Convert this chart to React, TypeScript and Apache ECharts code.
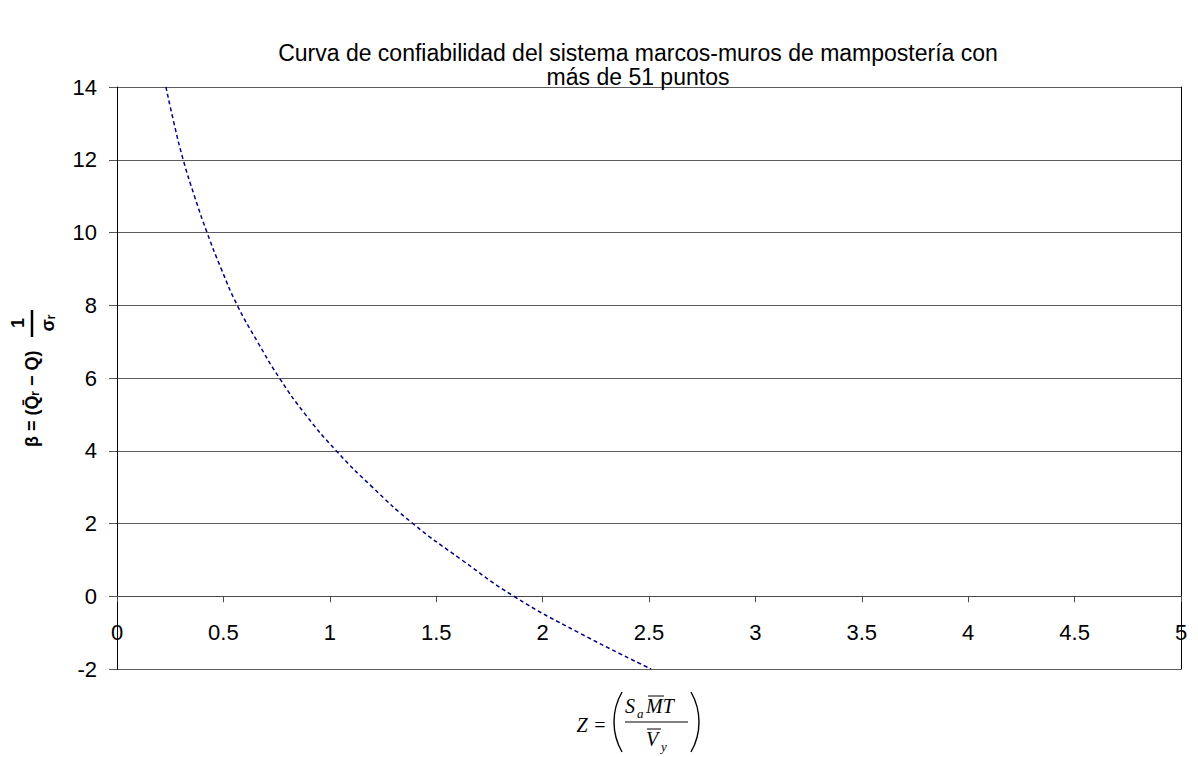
import React, { useEffect, useRef } from "react";
import * as echarts from "echarts";

// Reliability curve
const zValues = [0.23, 0.268, 0.311, 0.364, 0.423, 0.49, 0.565, 0.66, 0.763, 0.885, 1.03, 1.2, 1.39, 1.62, 1.865, 2.17, 2.51];
const betaValues = [14, 13, 12, 11, 10, 9, 8, 7, 6, 5, 4, 3, 2, 1, 0, -1, -2];

const titleLines = [
  "Curva de confiabilidad del sistema marcos-muros de mampostería con",
  "más de 51 puntos",
];

const X_MIN = 0;
const X_MAX = 5;
const X_STEP = 0.5;
const Y_MIN = -2;
const Y_MAX = 14;
const Y_STEP = 2;

const GRID_TOP = 87;
const GRID_BOTTOM = 88;
const CHART_H = 757;

const SANS = '"Liberation Sans", Arial, sans-serif';
const SERIF = '"Liberation Serif", "Times New Roman", serif';

export default function App() {
  const ref = useRef<HTMLDivElement>(null);

  useEffect(() => {
    if (!ref.current) return;
    const chart = echarts.init(ref.current, undefined, { renderer: "svg" });

    const data = zValues.map((z, i) => [z, betaValues[i]]);

    // place the x axis (line, ticks, labels) on the beta = 0 line
    const plotH = CHART_H - GRID_TOP - GRID_BOTTOM;
    const zeroOffset = -((0 - Y_MIN) / (Y_MAX - Y_MIN)) * plotH;

    const serifItalic = (size: number) => `italic ${size}px ${SERIF}`;

    const option: any = {
      animation: false,
      backgroundColor: "#ffffff",
      title: {
        text: titleLines.join("\n"),
        left: 633,
        top: 36,
        textAlign: "center",
        textStyle: {
          fontFamily: SANS,
          fontSize: 23,
          fontWeight: "normal",
          color: "#000",
          lineHeight: 24,
        },
      },
      grid: { left: 117, right: 17, top: GRID_TOP, bottom: GRID_BOTTOM, containLabel: false },
      xAxis: {
        type: "value",
        min: X_MIN,
        max: X_MAX,
        interval: X_STEP,
        position: "bottom",
        offset: zeroOffset,
        axisLine: { show: true, onZero: false, lineStyle: { color: "#4a4a4a", width: 1 } },
        axisTick: { show: true, length: 6, lineStyle: { color: "#4a4a4a" } },
        axisLabel: {
          show: true,
          margin: 25,
          fontFamily: SANS,
          fontSize: 22,
          color: "#000",
          showMinLabel: true,
          showMaxLabel: true,
        },
        splitLine: { show: false },
      },
      yAxis: [
        {
          type: "value",
          min: Y_MIN,
          max: Y_MAX,
          interval: Y_STEP,
          axisLine: { show: true, onZero: false, lineStyle: { color: "#000", width: 1 } },
          axisTick: { show: true, length: 8, lineStyle: { color: "#555" } },
          axisLabel: { margin: 20, fontFamily: SANS, fontSize: 22, color: "#000" },
          splitLine: { show: true, lineStyle: { color: "#5c5c5c", width: 1 } },
        },
        {
          type: "value",
          position: "right",
          min: Y_MIN,
          max: Y_MAX,
          interval: Y_STEP,
          axisLine: { show: true, onZero: false, lineStyle: { color: "#000", width: 1 } },
          axisTick: { show: false },
          axisLabel: { show: false },
          splitLine: { show: false },
        },
      ],
      series: [
        {
          type: "line",
          data,
          smooth: 0.5,
          showSymbol: false,
          yAxisIndex: 0,
          lineStyle: { color: "#000080", width: 1.5, type: [4, 3] },
          z: 5,
        },
      ],
      graphic: [
        // Y-axis name (rotated)
        {
          type: "group",
          x: 32,
          y: 378,
          rotation: Math.PI / 2,
          children: [
            {
              type: "text",
              x: -69,
              y: 0,
              style: {
                text: "β = (Q̄ᵣ − Q)",
                font: `bold 18px ${SANS}`,
                fill: "#000",
                textAlign: "left",
                textVerticalAlign: "middle",
              },
            },
            {
              type: "text",
              x: 55,
              y: -14,
              style: {
                text: "1",
                font: `bold 18px ${SANS}`,
                fill: "#000",
                textAlign: "center",
                textVerticalAlign: "middle",
              },
            },
            {
              type: "line",
              shape: { x1: 41, y1: 0, x2: 68, y2: 0 },
              style: { stroke: "#000", lineWidth: 2.5 },
            },
            {
              type: "text",
              x: 55,
              y: 16,
              style: {
                text: "σᵣ",
                font: `bold 18px ${SANS}`,
                fill: "#000",
                textAlign: "center",
                textVerticalAlign: "middle",
              },
            },
          ],
        },
        // X-axis name: Z = ( Sa M̄T / V̄y )
        {
          type: "group",
          x: 0,
          y: 0,
          children: [
            {
              type: "text",
              x: 582,
              y: 725,
              style: { text: "Z", font: serifItalic(20), fill: "#000", textAlign: "center", textVerticalAlign: "middle" },
            },
            {
              type: "text",
              x: 600,
              y: 725,
              style: { text: "=", font: `20px ${SERIF}`, fill: "#000", textAlign: "center", textVerticalAlign: "middle" },
            },
            {
              type: "arc",
              shape: { cx: 674, cy: 722, r: 60, startAngle: (5 * Math.PI) / 6, endAngle: (7 * Math.PI) / 6, clockwise: true },
              style: { stroke: "#000", lineWidth: 1.4, fill: "none" },
            },
            {
              type: "arc",
              shape: { cx: 639, cy: 722, r: 60, startAngle: -Math.PI / 6, endAngle: Math.PI / 6, clockwise: true },
              style: { stroke: "#000", lineWidth: 1.4, fill: "none" },
            },
            {
              type: "text",
              x: 625,
              y: 706,
              style: { text: "S", font: serifItalic(20), fill: "#000", textAlign: "left", textVerticalAlign: "middle" },
            },
            {
              type: "text",
              x: 637,
              y: 713,
              style: { text: "a", font: serifItalic(13), fill: "#000", textAlign: "left", textVerticalAlign: "middle" },
            },
            {
              type: "text",
              x: 646,
              y: 706,
              style: { text: "MT", font: serifItalic(20), fill: "#000", textAlign: "left", textVerticalAlign: "middle" },
            },
            {
              type: "line",
              shape: { x1: 648, y1: 696, x2: 664, y2: 696 },
              style: { stroke: "#000", lineWidth: 1 },
            },
            {
              type: "line",
              shape: { x1: 625, y1: 722, x2: 688, y2: 722 },
              style: { stroke: "#000", lineWidth: 1 },
            },
            {
              type: "text",
              x: 646,
              y: 739,
              style: { text: "V", font: serifItalic(20), fill: "#000", textAlign: "left", textVerticalAlign: "middle" },
            },
            {
              type: "line",
              shape: { x1: 647, y1: 729, x2: 661, y2: 729 },
              style: { stroke: "#000", lineWidth: 1 },
            },
            {
              type: "text",
              x: 661,
              y: 746,
              style: { text: "y", font: serifItalic(13), fill: "#000", textAlign: "left", textVerticalAlign: "middle" },
            },
          ],
        },
      ],
    };

    chart.setOption(option);
    return () => {
      chart.dispose();
    };
  }, []);

  return (
    <div
      ref={ref}
      style={{ position: "absolute", left: 0, top: 0, width: 1198, height: 757, background: "#fff" }}
    />
  );
}
